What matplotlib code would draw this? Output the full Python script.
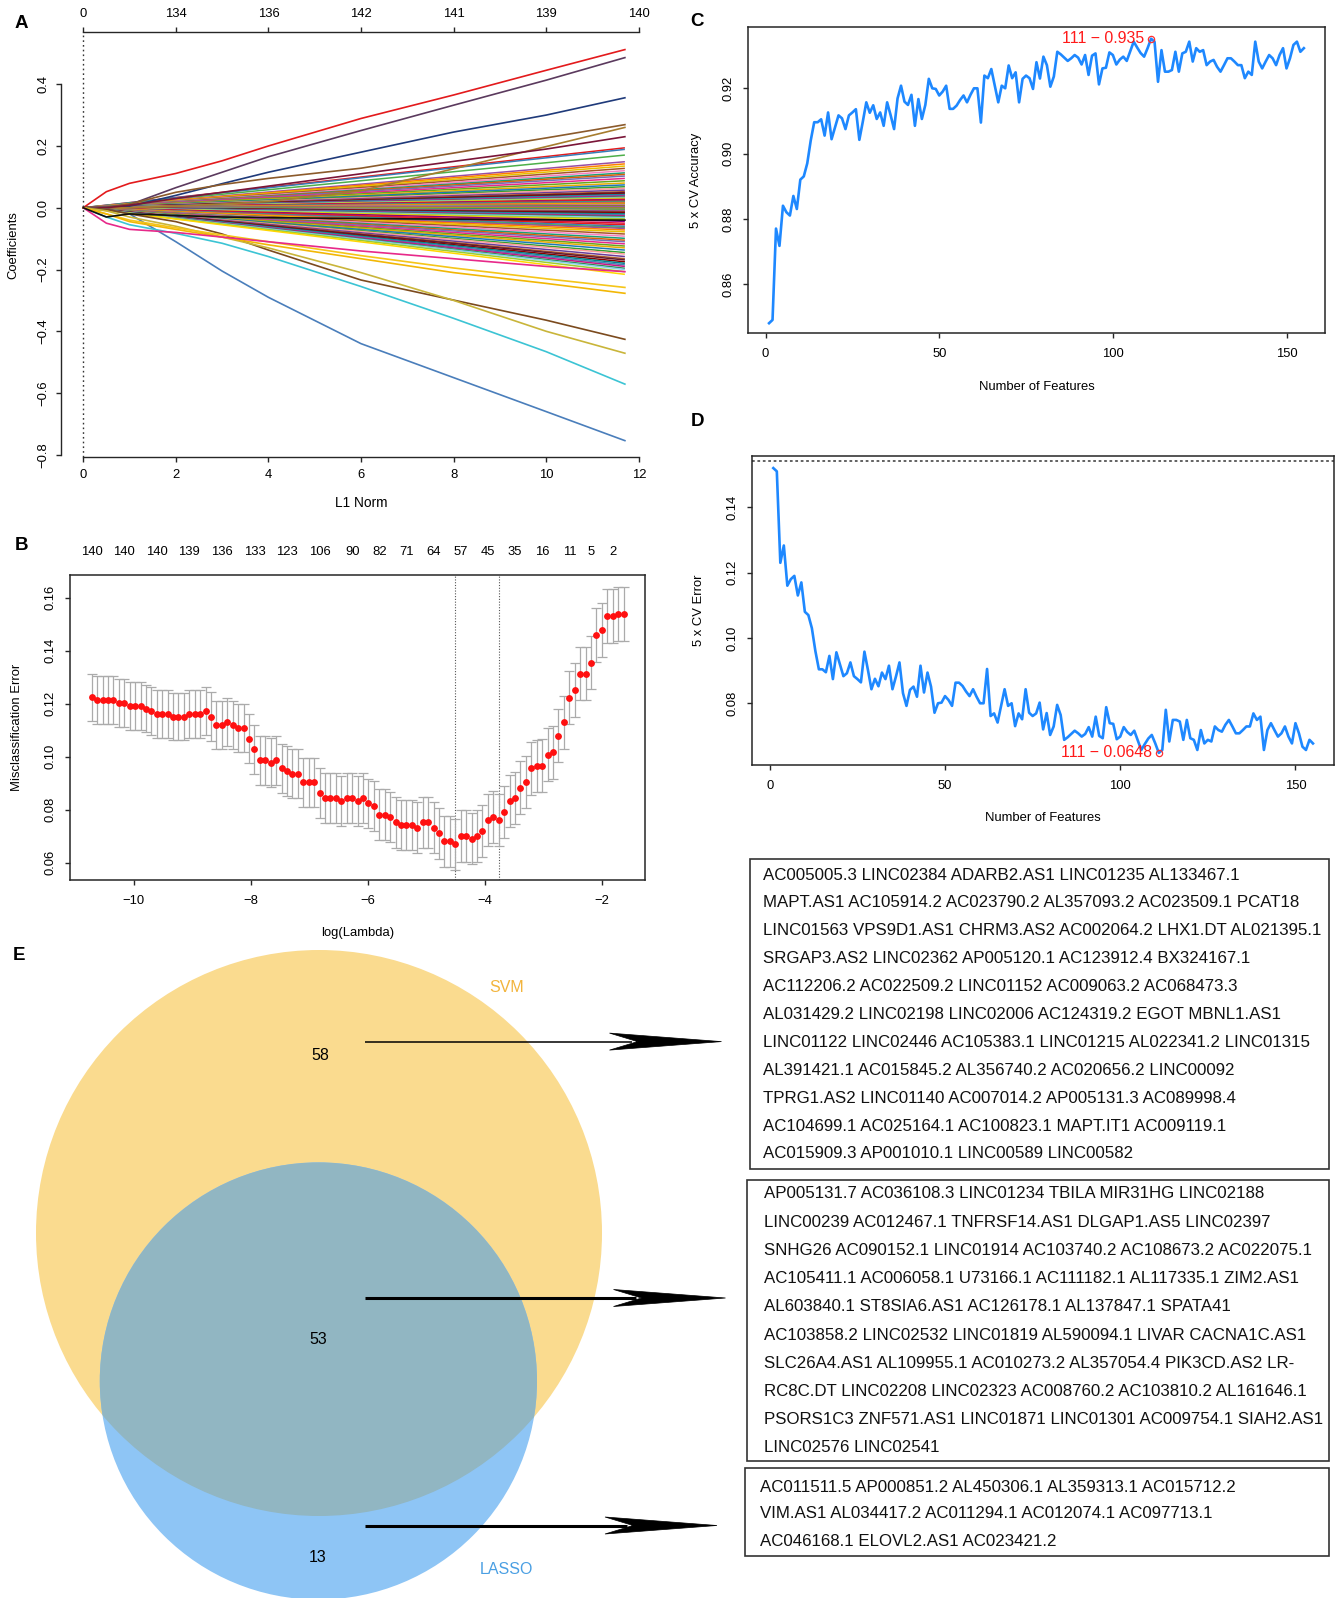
import numpy as np
import matplotlib
matplotlib.use("Agg")
import matplotlib.pyplot as plt
import matplotlib.transforms as mtransforms
from matplotlib.patches import Circle, Rectangle, Polygon
from matplotlib import font_manager as fm

# ---------------- data ----------------
# Panel A: LASSO coefficient paths (L1 norm knots)
path_l1 = [0, 0.5, 1, 2, 3, 4, 6, 8, 10, 11.7]
major_paths = [
    [0, 0.052, 0.079, 0.111, 0.152, 0.200, 0.289, 0.365, 0.445, 0.512],
    [0, 0.002, 0.010, 0.065, 0.115, 0.165, 0.250, 0.332, 0.413, 0.486],
    [0, 0.000, 0.005, 0.040, 0.078, 0.115, 0.180, 0.245, 0.300, 0.356],
    [0, 0.000, 0.012, 0.050, 0.075, 0.095, 0.128, 0.177, 0.226, 0.269],
    [0, 0.000, 0.000, 0.005, 0.012, 0.020, 0.055, 0.126, 0.198, 0.260],
    [0, 0.000, 0.008, 0.030, 0.050, 0.070, 0.110, 0.150, 0.190, 0.230],
    [0, -0.005, -0.020, -0.110, -0.205, -0.290, -0.440, -0.550, -0.660, -0.754],
    [0, -0.030, -0.055, -0.083, -0.115, -0.158, -0.255, -0.358, -0.466, -0.571],
    [0, -0.005, -0.020, -0.045, -0.085, -0.137, -0.234, -0.299, -0.364, -0.426],
    [0, -0.010, -0.030, -0.060, -0.095, -0.130, -0.210, -0.300, -0.400, -0.471],
    [0, -0.020, -0.040, -0.065, -0.088, -0.110, -0.155, -0.195, -0.230, -0.258],
    [0, -0.020, -0.045, -0.070, -0.095, -0.120, -0.165, -0.210, -0.245, -0.277],
    [0, -0.050, -0.070, -0.080, -0.095, -0.110, -0.140, -0.165, -0.190, -0.207],
    [0, -0.030, -0.020, -0.025, -0.030, -0.032, -0.035, -0.037, -0.039, -0.040],
]
major_colors = ['#E31A1C', '#5B3A5E', '#1F3A7A', '#8B5A2B', '#A67C2E', '#7A1538',
                '#4A7EBB', '#3CC4D4', '#7B4A1E', '#C9B53A', '#F5C518', '#F2B705',
                '#E7298A', '#111111']
bundle_l1 = [0.0, 11.7]
bundle_end = [0.194, 0.189, 0.1705, 0.149, 0.142, 0.135, 0.1275, 0.12, 0.113, 0.108,
              0.1026, 0.095, 0.0874, 0.08, 0.074, 0.068, 0.0628, 0.057, 0.052, 0.049,
              0.046, 0.043, 0.041, 0.038, 0.035, 0.033, 0.031, 0.029, 0.027, 0.025,
              0.023, 0.021, 0.019, 0.017, 0.015, 0.013, 0.011, 0.009, 0.007, 0.005,
              0.003, 0.001, -0.001, -0.003, -0.005, -0.007, -0.009, -0.011, -0.013,
              -0.015, -0.017, -0.02, -0.023, -0.026, -0.029, -0.032, -0.036, -0.04,
              -0.044, -0.05, -0.055, -0.06, -0.064, -0.067, -0.072, -0.078, -0.085,
              -0.092, -0.099, -0.105, -0.11, -0.117, -0.124, -0.13, -0.137, -0.145,
              -0.15, -0.158, -0.165, -0.169, -0.175, -0.18, -0.185, -0.19, -0.196,
              -0.2, -0.207, -0.2156]
bundle_palette = ['#E41A1C', '#377EB8', '#4DAF4A', '#984EA3', '#FF7F00', '#E6C200',
                  '#A65628', '#F781BF', '#1B9E77', '#D95F02', '#7570B3', '#E7298A',
                  '#66A61E', '#E6AB02', '#1F78B4', '#33A02C', '#FB9A99', '#6A3D9A',
                  '#B15928', '#5C1A33', '#8B0000', '#00868B', '#4682B4', '#C71585',
                  '#2E8B57', '#87CEEB', '#9ACD32', '#FFD700', '#800080', '#DC143C']
a_top_ticks = [0, 2, 4, 6, 8, 10, 12]
a_top_labels = ['0', '134', '136', '142', '141', '139', '140']

# Panel B: CV misclassification error along the lambda path
loglam_first, loglam_last = -10.72, -1.63
mis_err = [0.1224, 0.1214, 0.1214, 0.1214, 0.1214, 0.1203, 0.1203, 0.1192, 0.1192, 0.1192,
           0.1182, 0.1172, 0.1162, 0.1162, 0.1162, 0.1152, 0.1152, 0.1152, 0.1162, 0.1162,
           0.1162, 0.1172, 0.1152, 0.1121, 0.1121, 0.1131, 0.1121, 0.1110, 0.1110, 0.1068,
           0.1028, 0.0987, 0.0987, 0.0977, 0.0987, 0.0956, 0.0946, 0.0936, 0.0936, 0.0904,
           0.0904, 0.0904, 0.0864, 0.0844, 0.0844, 0.0844, 0.0834, 0.0844, 0.0844, 0.0834,
           0.0844, 0.0824, 0.0814, 0.0782, 0.0782, 0.0772, 0.0752, 0.0742, 0.0742, 0.0742,
           0.0732, 0.0752, 0.0752, 0.0732, 0.0711, 0.0681, 0.0681, 0.0670, 0.0701, 0.0701,
           0.0691, 0.0701, 0.0721, 0.0762, 0.0772, 0.0762, 0.0792, 0.0834, 0.0844, 0.0884,
           0.0904, 0.0956, 0.0966, 0.0966, 0.1008, 0.1018, 0.1079, 0.1130, 0.1223, 0.1253,
           0.1314, 0.1314, 0.1355, 0.1458, 0.1478, 0.1530, 0.1530, 0.1540, 0.1540]
mis_sd = [0.0090, 0.0090, 0.0090, 0.0090, 0.0090, 0.0090, 0.0090, 0.0090, 0.0090, 0.0090,
          0.0090, 0.0090, 0.0090, 0.0090, 0.0090, 0.0090, 0.0090, 0.0090, 0.0090, 0.0090,
          0.0091, 0.0091, 0.0091, 0.0091, 0.0091, 0.0091, 0.0091, 0.0091, 0.0091, 0.0092,
          0.0092, 0.0092, 0.0092, 0.0092, 0.0092, 0.0093, 0.0093, 0.0093, 0.0093, 0.0093,
          0.0093, 0.0093, 0.0094, 0.0094, 0.0094, 0.0094, 0.0094, 0.0094, 0.0094, 0.0094,
          0.0094, 0.0094, 0.0095, 0.0095, 0.0095, 0.0095, 0.0095, 0.0095, 0.0095, 0.0095,
          0.0096, 0.0096, 0.0096, 0.0096, 0.0097, 0.0097, 0.0097, 0.0097, 0.0097, 0.0097,
          0.0097, 0.0097, 0.0098, 0.0098, 0.0098, 0.0098, 0.0098, 0.0098, 0.0099, 0.0099,
          0.0099, 0.0099, 0.0099, 0.0100, 0.0100, 0.0100, 0.0100, 0.0100, 0.0101, 0.0101,
          0.0101, 0.0101, 0.0101, 0.0102, 0.0102, 0.0102, 0.0102, 0.0102, 0.0102]
b_top_idx = [0, 6, 12, 18, 24, 30, 36, 42, 48, 53, 58, 63, 68, 73, 78, 83, 88, 92, 96]
b_top_labels = ['140', '140', '140', '139', '136', '133', '123', '106', '90', '82',
                '71', '64', '57', '45', '35', '16', '11', '5', '2']
lambda_min_idx, lambda_1se_idx = 67, 75

# Panels C / D: SVM-RFE 5x CV accuracy and error vs number of features (1..155)
cv_accuracy = [
    0.8480, 0.8490, 0.8770, 0.8717, 0.8840, 0.8820, 0.8810, 0.8870, 0.8830, 0.8920,
    0.8930, 0.8970, 0.9040, 0.9096, 0.9096, 0.9105, 0.9055, 0.9126, 0.9044, 0.9080,
    0.9117, 0.9108, 0.9075, 0.9117, 0.9126, 0.9136, 0.9042, 0.9098, 0.9157, 0.9125,
    0.9148, 0.9106, 0.9126, 0.9085, 0.9157, 0.9118, 0.9075, 0.9169, 0.9208, 0.9159,
    0.9149, 0.9180, 0.9085, 0.9167, 0.9106, 0.9149, 0.9229, 0.9200, 0.9198, 0.9178,
    0.9190, 0.9208, 0.9137, 0.9137, 0.9147, 0.9164, 0.9178, 0.9157, 0.9180, 0.9200,
    0.9200, 0.9095, 0.9239, 0.9231, 0.9259, 0.9208, 0.9157, 0.9208, 0.9200, 0.9270,
    0.9231, 0.9249, 0.9157, 0.9229, 0.9239, 0.9231, 0.9198, 0.9280, 0.9230, 0.9297,
    0.9271, 0.9205, 0.9236, 0.9312, 0.9304, 0.9294, 0.9284, 0.9292, 0.9302, 0.9294,
    0.9273, 0.9302, 0.9241, 0.9300, 0.9307, 0.9212, 0.9261, 0.9263, 0.9310, 0.9302,
    0.9273, 0.9288, 0.9297, 0.9284, 0.9314, 0.9343, 0.9325, 0.9308, 0.9297, 0.9323,
    0.9352, 0.9343, 0.9220, 0.9317, 0.9251, 0.9251, 0.9256, 0.9312, 0.9251, 0.9307,
    0.9312, 0.9343, 0.9282, 0.9323, 0.9312, 0.9317, 0.9271, 0.9282, 0.9287, 0.9266,
    0.9251, 0.9271, 0.9292, 0.9292, 0.9282, 0.9271, 0.9271, 0.9231, 0.9251, 0.9241,
    0.9343, 0.9282, 0.9261, 0.9282, 0.9302, 0.9292, 0.9271, 0.9302, 0.9323, 0.9261,
    0.9292, 0.9333, 0.9343, 0.9312, 0.9323]
cv_error = [
    0.1520, 0.1510, 0.1230, 0.1283, 0.1160, 0.1180, 0.1190, 0.1130, 0.1170, 0.1080,
    0.1070, 0.1030, 0.0960, 0.0904, 0.0904, 0.0895, 0.0945, 0.0874, 0.0956, 0.0920,
    0.0883, 0.0892, 0.0925, 0.0883, 0.0874, 0.0864, 0.0958, 0.0902, 0.0843, 0.0875,
    0.0852, 0.0894, 0.0874, 0.0915, 0.0843, 0.0882, 0.0925, 0.0831, 0.0792, 0.0841,
    0.0851, 0.0820, 0.0915, 0.0833, 0.0894, 0.0851, 0.0771, 0.0800, 0.0802, 0.0822,
    0.0810, 0.0792, 0.0863, 0.0863, 0.0853, 0.0836, 0.0822, 0.0843, 0.0820, 0.0800,
    0.0800, 0.0905, 0.0761, 0.0769, 0.0741, 0.0792, 0.0843, 0.0792, 0.0800, 0.0730,
    0.0769, 0.0751, 0.0843, 0.0771, 0.0761, 0.0769, 0.0802, 0.0720, 0.0770, 0.0703,
    0.0729, 0.0795, 0.0764, 0.0688, 0.0696, 0.0706, 0.0716, 0.0708, 0.0698, 0.0706,
    0.0727, 0.0698, 0.0759, 0.0700, 0.0693, 0.0788, 0.0739, 0.0737, 0.0690, 0.0698,
    0.0727, 0.0712, 0.0703, 0.0716, 0.0686, 0.0657, 0.0675, 0.0692, 0.0703, 0.0677,
    0.0648, 0.0657, 0.0780, 0.0683, 0.0749, 0.0749, 0.0744, 0.0688, 0.0749, 0.0693,
    0.0688, 0.0657, 0.0718, 0.0677, 0.0688, 0.0683, 0.0729, 0.0718, 0.0713, 0.0734,
    0.0749, 0.0729, 0.0708, 0.0708, 0.0718, 0.0729, 0.0729, 0.0769, 0.0749, 0.0759,
    0.0657, 0.0718, 0.0739, 0.0718, 0.0698, 0.0708, 0.0729, 0.0698, 0.0677, 0.0739,
    0.0708, 0.0667, 0.0657, 0.0688, 0.0677]
best_n = 111
best_acc_label = '0.935'
best_err_label = '0.0648'
baseline_error = 0.1543

# Panel E: Venn counts and gene lists
venn_counts = {'svm_only': 58, 'both': 53, 'lasso_only': 13}
svm_only_lines = [
    "AC005005.3 LINC02384 ADARB2.AS1 LINC01235 AL133467.1",
    "MAPT.AS1 AC105914.2 AC023790.2 AL357093.2 AC023509.1 PCAT18",
    "LINC01563 VPS9D1.AS1 CHRM3.AS2 AC002064.2 LHX1.DT AL021395.1",
    "SRGAP3.AS2 LINC02362 AP005120.1 AC123912.4 BX324167.1",
    "AC112206.2 AC022509.2 LINC01152 AC009063.2 AC068473.3",
    "AL031429.2 LINC02198 LINC02006 AC124319.2 EGOT MBNL1.AS1",
    "LINC01122 LINC02446 AC105383.1 LINC01215 AL022341.2 LINC01315",
    "AL391421.1 AC015845.2 AL356740.2 AC020656.2 LINC00092",
    "TPRG1.AS2 LINC01140 AC007014.2 AP005131.3 AC089998.4",
    "AC104699.1 AC025164.1 AC100823.1 MAPT.IT1 AC009119.1",
    "AC015909.3 AP001010.1 LINC00589 LINC00582",
]
both_lines = [
    "AP005131.7 AC036108.3 LINC01234 TBILA MIR31HG LINC02188",
    "LINC00239 AC012467.1 TNFRSF14.AS1 DLGAP1.AS5 LINC02397",
    "SNHG26 AC090152.1 LINC01914 AC103740.2 AC108673.2 AC022075.1",
    "AC105411.1 AC006058.1 U73166.1 AC111182.1 AL117335.1 ZIM2.AS1",
    "AL603840.1 ST8SIA6.AS1 AC126178.1 AL137847.1 SPATA41",
    "AC103858.2 LINC02532 LINC01819 AL590094.1 LIVAR CACNA1C.AS1",
    "SLC26A4.AS1 AL109955.1 AC010273.2 AL357054.4 PIK3CD.AS2 LR-",
    "RC8C.DT LINC02208 LINC02323 AC008760.2 AC103810.2 AL161646.1",
    "PSORS1C3 ZNF571.AS1 LINC01871 LINC01301 AC009754.1 SIAH2.AS1",
    "LINC02576 LINC02541",
]
lasso_only_lines = [
    "AC011511.5 AP000851.2 AL450306.1 AL359313.1 AC015712.2",
    "VIM.AS1 AL034417.2 AC011294.1 AC012074.1 AC097713.1",
    "AC046168.1 ELOVL2.AS1 AC023421.2",
]

# ---------------- fonts ----------------
names = {f.name for f in fm.fontManager.ttflist}
if 'Liberation Sans Narrow' in names:
    CF, CS = ['Liberation Sans Narrow', 'DejaVu Sans'], 10.3
else:
    CF, CS = ['Liberation Sans', 'DejaVu Sans'], 9.4
RF = ['Liberation Sans', 'DejaVu Sans']
plt.rcParams['font.family'] = CF
plt.rcParams['axes.unicode_minus'] = True

W, H = 1335, 1598
fig = plt.figure(figsize=(W / 100, H / 100), dpi=100)


def add_ax(l, t, r, b):
    return fig.add_axes([l / W, 1 - b / H, (r - l) / W, (b - t) / H])


def ftext(x, y, s, **kw):
    return fig.text(x / W, 1 - y / H, s, **kw)


def fmt(v, nd):
    s = f"{v:.{nd}f}"
    return s.replace('-', '\u2212')


def rot_yticks(ax, ticks, nd, pad):
    ax.set_yticks(ticks, [fmt(t, nd) for t in ticks])
    ax.tick_params(axis='y', pad=pad)
    for lab in ax.get_yticklabels():
        lab.set_rotation(90)
        lab.set_va('center')
        lab.set_ha('right')
        lab.set_fontfamily(CF)
        lab.set_fontsize(CS)


SPC = '#262626'
TL = 3.6

# ---------------- Panel A ----------------
axA = add_ax(61, 32.3, 661, 456.7)
axA.set_xlim(-0.48, 12.48)
axA.set_ylim(-0.806, 0.568)
for i, e in enumerate(bundle_end):
    axA.plot(bundle_l1, [0.0, e], color=bundle_palette[i % len(bundle_palette)], lw=1.1,
             solid_capstyle='butt')
for vals, c in zip(major_paths, major_colors):
    axA.plot(path_l1, vals, color=c, lw=1.2)
axA.axvline(0, ls=(0, (1.2, 2.2)), color='#333333', lw=1.0)
for s in ['right', 'top']:
    axA.spines[s].set_visible(False)
axA.spines['left'].set_bounds(-0.8, 0.4)
axA.spines['bottom'].set_bounds(0, 12)
for s in ['left', 'bottom']:
    axA.spines[s].set_color(SPC)
    axA.spines[s].set_linewidth(1.0)
axA.set_xticks([0, 2, 4, 6, 8, 10, 12], ['0', '2', '4', '6', '8', '10', '12'])
axA.tick_params(axis='x', length=TL, width=1.0, pad=5, labelsize=CS, color=SPC)
axA.tick_params(axis='y', length=TL, width=1.0, color=SPC)
rot_yticks(axA, [-0.8, -0.6, -0.4, -0.2, 0.0, 0.2, 0.4], 1, 4.5)
axA.patch.set_alpha(0)

axAt = axA.twiny()
axAt.set_xlim(axA.get_xlim())
for s in ['left', 'right', 'bottom']:
    axAt.spines[s].set_visible(False)
axAt.spines['top'].set_bounds(0, 12)
axAt.spines['top'].set_color(SPC)
axAt.spines['top'].set_linewidth(1.0)
axAt.set_xticks(a_top_ticks, a_top_labels)
axAt.tick_params(axis='x', length=TL, width=1.0, pad=5, labelsize=CS, color=SPC)

ftext(361, 503, 'L1 Norm', ha='center', va='center', fontsize=CS + 0.5)
ftext(13, 245, 'Coefficients', ha='center', va='center', rotation=90, fontsize=CS)

# ---------------- Panel B ----------------
axB = add_ax(70.3, 575, 644.8, 880)
loglam = np.linspace(loglam_first, loglam_last, len(mis_err))
axB.errorbar(loglam, mis_err, yerr=mis_sd, fmt='o', color='#FF1010', ms=3.9,
             ecolor='#ABABAB', elinewidth=0.9, capsize=3.8, capthick=0.9, zorder=3)
axB.axvline(loglam[lambda_min_idx], ls=(0, (1, 1.5)), color='#555555', lw=0.8)
axB.axvline(loglam[lambda_1se_idx], ls=(0, (1, 1.5)), color='#555555', lw=0.8)
axB.set_xlim(-11.085, -1.267)
axB.set_ylim(0.0535, 0.1686)
axB.set_xticks([-10, -8, -6, -4, -2], [fmt(v, 0) for v in [-10, -8, -6, -4, -2]])
axB.tick_params(axis='x', length=TL, width=1.0, pad=7, labelsize=CS, color=SPC)
axB.tick_params(axis='y', length=TL, width=1.0, color=SPC)
rot_yticks(axB, [0.06, 0.08, 0.10, 0.12, 0.14, 0.16], 2, 6)
for s in axB.spines.values():
    s.set_color(SPC)
    s.set_linewidth(1.1)
trB = mtransforms.blended_transform_factory(axB.transData, axB.transAxes)
top_label_y = (880 - 552) / (880 - 575)
for idx, lab in zip(b_top_idx, b_top_labels):
    axB.text(loglam[idx], top_label_y, lab, transform=trB, ha='center', va='center',
             fontsize=CS)
ftext(358, 933, 'log(Lambda)', ha='center', va='center', fontsize=CS)
ftext(17, 727, 'Misclassification Error', ha='center', va='center', rotation=90, fontsize=CS)

# ---------------- Panel C ----------------
features = np.arange(1, len(cv_accuracy) + 1)
axC = add_ax(747.7, 27.3, 1325.4, 333.3)
axC.plot(features, cv_accuracy, color='#1E88FF', lw=1.9)
bi = best_n - 1
axC.plot([best_n], [cv_accuracy[bi]], 'o', mfc='none', mec='#FF3030', ms=4.5, mew=0.9)
axC.annotate(f"{best_n} \u2212 {best_acc_label}", xy=(best_n, cv_accuracy[bi]),
             xytext=(-5.0, 0), textcoords='offset points', ha='right', va='center',
             color='#FF1A1A', fontsize=CS + 2.0)
axC.set_xlim(-5.15, 161.2)
axC.set_ylim(0.8449, 0.9387)
axC.set_xticks([0, 50, 100, 150])
axC.tick_params(axis='x', length=TL, width=1.0, pad=7, labelsize=CS, color=SPC)
axC.tick_params(axis='y', length=TL, width=1.0, color=SPC)
rot_yticks(axC, [0.86, 0.88, 0.90, 0.92], 2, 6)
for s in axC.spines.values():
    s.set_color(SPC)
    s.set_linewidth(1.1)
ftext(1037, 387, 'Number of Features', ha='center', va='center', fontsize=CS)
ftext(696, 180, '5 x CV Accuracy', ha='center', va='center', rotation=90, fontsize=CS)

# ---------------- Panel D ----------------
axD = add_ax(751.8, 456, 1334, 765)
axD.plot(features, cv_error, color='#1E88FF', lw=1.9)
axD.axhline(baseline_error, ls=(0, (1.5, 1.5)), color='#555555', lw=1.3)
axD.plot([best_n], [cv_error[bi]], 'o', mfc='none', mec='#FF3030', ms=4.5, mew=0.9)
axD.annotate(f"{best_n} \u2212 {best_err_label}", xy=(best_n, cv_error[bi]),
             xytext=(-5.0, 0), textcoords='offset points', ha='right', va='center',
             color='#FF1A1A', fontsize=CS + 2.0)
axD.set_xlim(-5.14, 161)
axD.set_ylim(0.0611, 0.1557)
axD.set_xticks([0, 50, 100, 150])
axD.tick_params(axis='x', length=TL, width=1.0, pad=7, labelsize=CS, color=SPC)
axD.tick_params(axis='y', length=TL, width=1.0, color=SPC)
rot_yticks(axD, [0.08, 0.10, 0.12, 0.14], 2, 6)
for s in axD.spines.values():
    s.set_color(SPC)
    s.set_linewidth(1.1)
ftext(1043, 818, 'Number of Features', ha='center', va='center', fontsize=CS)
ftext(699, 610, '5 x CV Error', ha='center', va='center', rotation=90, fontsize=CS)

# ---------------- Panel labels ----------------
for lab, (x, y) in {'A': (21, 24), 'B': (21, 545), 'C': (697, 22), 'D': (697, 421),
                    'E': (19, 956)}.items():
    ftext(x, y, lab, ha='center', va='center', fontsize=13.5, fontweight='bold', family=RF)

# ---------------- Panel E (Venn + gene lists) ----------------
axV = fig.add_axes([0, 0, 1, 1])
axV.set_xlim(0, W)
axV.set_ylim(H, 0)
axV.axis('off')
axV.patch.set_alpha(0)
axV.set_zorder(-1)

svm_c = Circle((319, 1233), 283, fc='#FADB8F', ec='none')
axV.add_patch(svm_c)
axV.add_patch(Circle((318.4, 1381), 218.6, fc='#8EC5F5', ec='none'))
ov = Circle((318.4, 1381), 218.6, fc='#91B6C2', ec='none')
axV.add_patch(ov)
ov.set_clip_path(svm_c)

axV.text(320, 1056, str(venn_counts['svm_only']), ha='center', va='center', fontsize=11.5, family=RF)
axV.text(318, 1339, str(venn_counts['both']), ha='center', va='center', fontsize=11.5, family=RF)
axV.text(318, 1557, str(venn_counts['lasso_only']), ha='center', va='center', fontsize=11.5, family=RF)
axV.text(507, 987, 'SVM', ha='center', va='center', fontsize=11.5, color='#F2B43C', family=RF)
axV.text(506, 1569, 'LASSO', ha='center', va='center', fontsize=11.5, color='#4A9FE3', family=RF)

arrow_y = [1041.6, 1298, 1525.5]
arrow_tip = [721.5, 725.5, 717]
arrow_lw = [1.1, 2.2, 2.2]
for y, xt, lw in zip(arrow_y, arrow_tip, arrow_lw):
    axV.plot([365, xt - 90], [y, y], color='black', lw=lw, solid_capstyle='butt')
    axV.add_patch(Polygon([(xt, y), (xt - 112, y - 8.5), (xt - 84, y), (xt - 112, y + 8.5)],
                          closed=True, fc='black', ec='black', lw=0.5))

# measure text size for gene lists
probe = axV.text(0, 0, svm_only_lines[0], fontsize=10, family=RF)
fig.canvas.draw()
wpx = probe.get_window_extent().width
probe.remove()
gfs = 10 * 478.0 / wpx

boxes = [
    (750, 859, 1329, 1169, 762.6, 875.0, 27.9, svm_only_lines),
    (747, 1179.5, 1329, 1461, 763.7, 1194.0, 28.2, both_lines),
    (745, 1468, 1329, 1556, 760.0, 1487.0, 27.0, lasso_only_lines),
]
for (l, t, r, b, tx, ty, dy, lines) in boxes:
    axV.add_patch(Rectangle((l, t), r - l, b - t, fc='white', ec='#333333', lw=1.2))
    for k, line in enumerate(lines):
        axV.text(tx, ty + k * dy, line, ha='left', va='center', fontsize=gfs, family=RF,
                 color='#111111')

fig.savefig('out.png', dpi=100)
